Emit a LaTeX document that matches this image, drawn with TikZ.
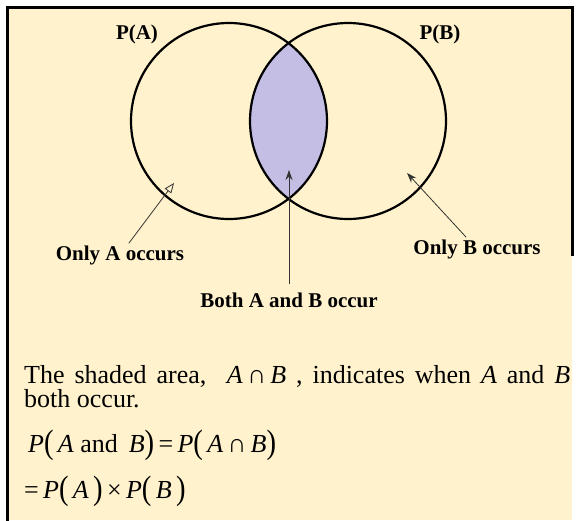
\documentclass[tikz,border=0pt]{standalone}
\usepackage{fontspec}
\setmainfont{Liberation Serif}
\usetikzlibrary{arrows.meta, positioning}

\definecolor{cream}{RGB}{255,242,204}
\definecolor{lensfill}{RGB}{196,189,228}

\newcommand{\tallpar}[1]{\raisebox{-1pt}{\scalebox{1.1}[1.3]{#1}}}

\begin{document}
\begin{tikzpicture}[x=1pt, y=-1pt]
    \tikzset{
      setlabel/.style={font=\fontsize{21}{23}\selectfont\bfseries, inner sep=2pt},
      pointer/.style={line width=0.8pt, black!80, -{Stealth[length=10pt, width=7pt]}},
      openpointer/.style={line width=0.8pt, black!80, -{Triangle[open, length=10pt, width=8pt]}},
      venn/.style={circle, draw, line width=2.2pt, minimum size=196pt, inner sep=0pt},
      body/.style={font=\fontsize{26}{28}\selectfont, anchor=base west, inner sep=0pt}
    }
    % page and frame
    \useasboundingbox (0,0) rectangle (578,520);
    \fill[cream] (7,7) rectangle (572,520);
    \draw[line width=3pt] (7,521) -- (7,7) -- (572,7) -- (572,256);

    % the two events, overlap shaded first
    \coordinate (ca) at (229,121);
    \coordinate (cb) at (348,121);
    \begin{scope}
      \clip (ca) circle (98pt);
      \fill[lensfill] (cb) circle (98pt);
    \end{scope}
    \node[venn] (seta) at (ca) {};
    \node[venn] (setb) at (cb) {};

    \node[setlabel] (pa) at (137,34) {P(A)};
    \node[setlabel] (pb) at (440,34) {P(B)};
    \node[setlabel] (onlya) at (120,255) {Only A occurs};
    \node[setlabel] (onlyb) at (477,249) {Only B occurs};
    \node[setlabel] (both) at (289,300) {Both A and B occur};

    \coordinate (tipa) at (174,183);
    \coordinate (tipb) at (407,173);
    \coordinate (tipab) at (289,170);
    \draw[openpointer] (onlya) -- (tipa);
    \draw[pointer] (onlyb) -- (tipb);
    \draw[pointer, shorten <=6pt] (both) -- (tipab);

    % explanation
    \node[body] (line1) at (24,383) {\makebox[546pt][s]{The shaded area, \ \textit{A}\,∩\,\textit{B}\ , indicates when \textit{A} and \textit{B}}};
    \node[body] (line2) at (24,407) {both occur.};
    \node[body] (eq1) at (28,452) {\textit{P}\tallpar{(}\,\textit{A} and \,\textit{B}\tallpar{)}\,=\,\textit{P}\tallpar{(}\,\textit{A}\,∩\,\textit{B}\tallpar{)}};
    \node[body] (eq2) at (24,498) {=\,\textit{P}\tallpar{(}\,\textit{A}\,\tallpar{)}\,×\,\textit{P}\tallpar{(}\,\textit{B}\,\tallpar{)}};
\end{tikzpicture}
\end{document}
